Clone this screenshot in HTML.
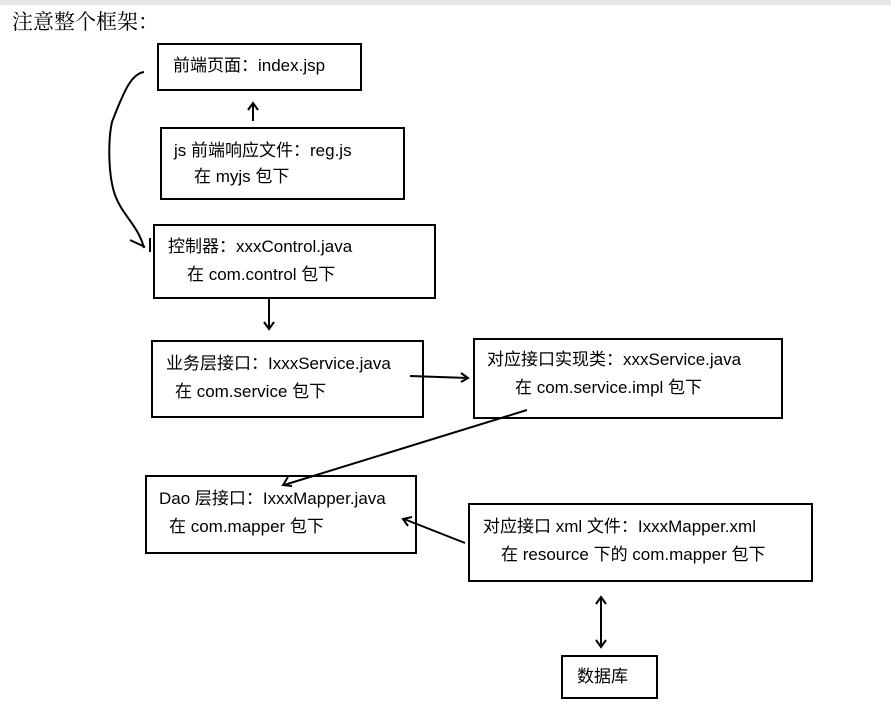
<!DOCTYPE html>
<html><head><meta charset="utf-8"><style>
body{margin:0;width:891px;height:710px;background:#fff;position:relative;overflow:hidden;font-family:"Liberation Sans","Noto Sans CJK SC",sans-serif;color:#000}
.b{position:absolute;border:2px solid #000;box-sizing:border-box;font-size:17px;line-height:28px}
.t{position:absolute;white-space:nowrap}
svg{position:absolute;left:0;top:0}
</style></head><body>
<div style="position:absolute;left:0;top:0;width:891px;height:5px;background:#e6e6e6"></div>
<div class="t" style="left:12px;top:6px;font-size:21px;font-family:'Liberation Serif','Noto Serif CJK SC',serif">注意整个框架：</div>
<div class="b" style="left:157px;top:43px;width:205px;height:48px"><span class="t" style="left:14px;top:7px">前端页面：index.jsp</span></div>
<div class="b" style="left:160px;top:127px;width:245px;height:73px"><span class="t" style="left:12px;top:8px">js 前端响应文件：reg.js</span><span class="t" style="left:32px;top:34px">在 myjs 包下</span></div>
<div class="b" style="left:153px;top:224px;width:283px;height:75px"><span class="t" style="left:13px;top:7px">控制器：xxxControl.java</span><span class="t" style="left:32px;top:35px">在 com.control 包下</span></div>
<div class="b" style="left:151px;top:340px;width:273px;height:78px"><span class="t" style="left:13px;top:8px">业务层接口：IxxxService.java</span><span class="t" style="left:22px;top:36px">在 com.service 包下</span></div>
<div class="b" style="left:473px;top:338px;width:310px;height:81px"><span class="t" style="left:12px;top:6px">对应接口实现类：xxxService.java</span><span class="t" style="left:40px;top:34px">在 com.service.impl 包下</span></div>
<div class="b" style="left:145px;top:475px;width:272px;height:79px"><span class="t" style="left:12px;top:8px">Dao 层接口：IxxxMapper.java</span><span class="t" style="left:22px;top:36px">在 com.mapper 包下</span></div>
<div class="b" style="left:468px;top:503px;width:345px;height:79px"><span class="t" style="left:13px;top:8px">对应接口 xml 文件：IxxxMapper.xml</span><span class="t" style="left:31px;top:36px">在 resource 下的 com.mapper 包下</span></div>
<div class="b" style="left:561px;top:655px;width:97px;height:44px"><span class="t" style="left:14px;top:6px">数据库</span></div>
<svg width="891" height="710" fill="none" stroke="#000" stroke-width="2">
<path d="M253 121V104M248 110L253 103L258 110"/>
<path d="M269 299V329M264 322L269 329L274 322"/>
<path d="M410 376L468 378M461 373L468 378L461 382"/>
<path d="M527 410L284 485M288 477L283 485L292 486"/>
<path d="M465 543L404 519M408 526L403 519L412 517"/>
<path d="M601 597V647M596 604L601 597L606 604M596 640L601 647L606 640"/>
<path d="M144 72C132 74 125 88 112 122C108 140 108 175 115 195C122 215 138 225 144 248"/>
<path d="M130 240L145 247M150 238V252"/>
</svg>
</body></html>
